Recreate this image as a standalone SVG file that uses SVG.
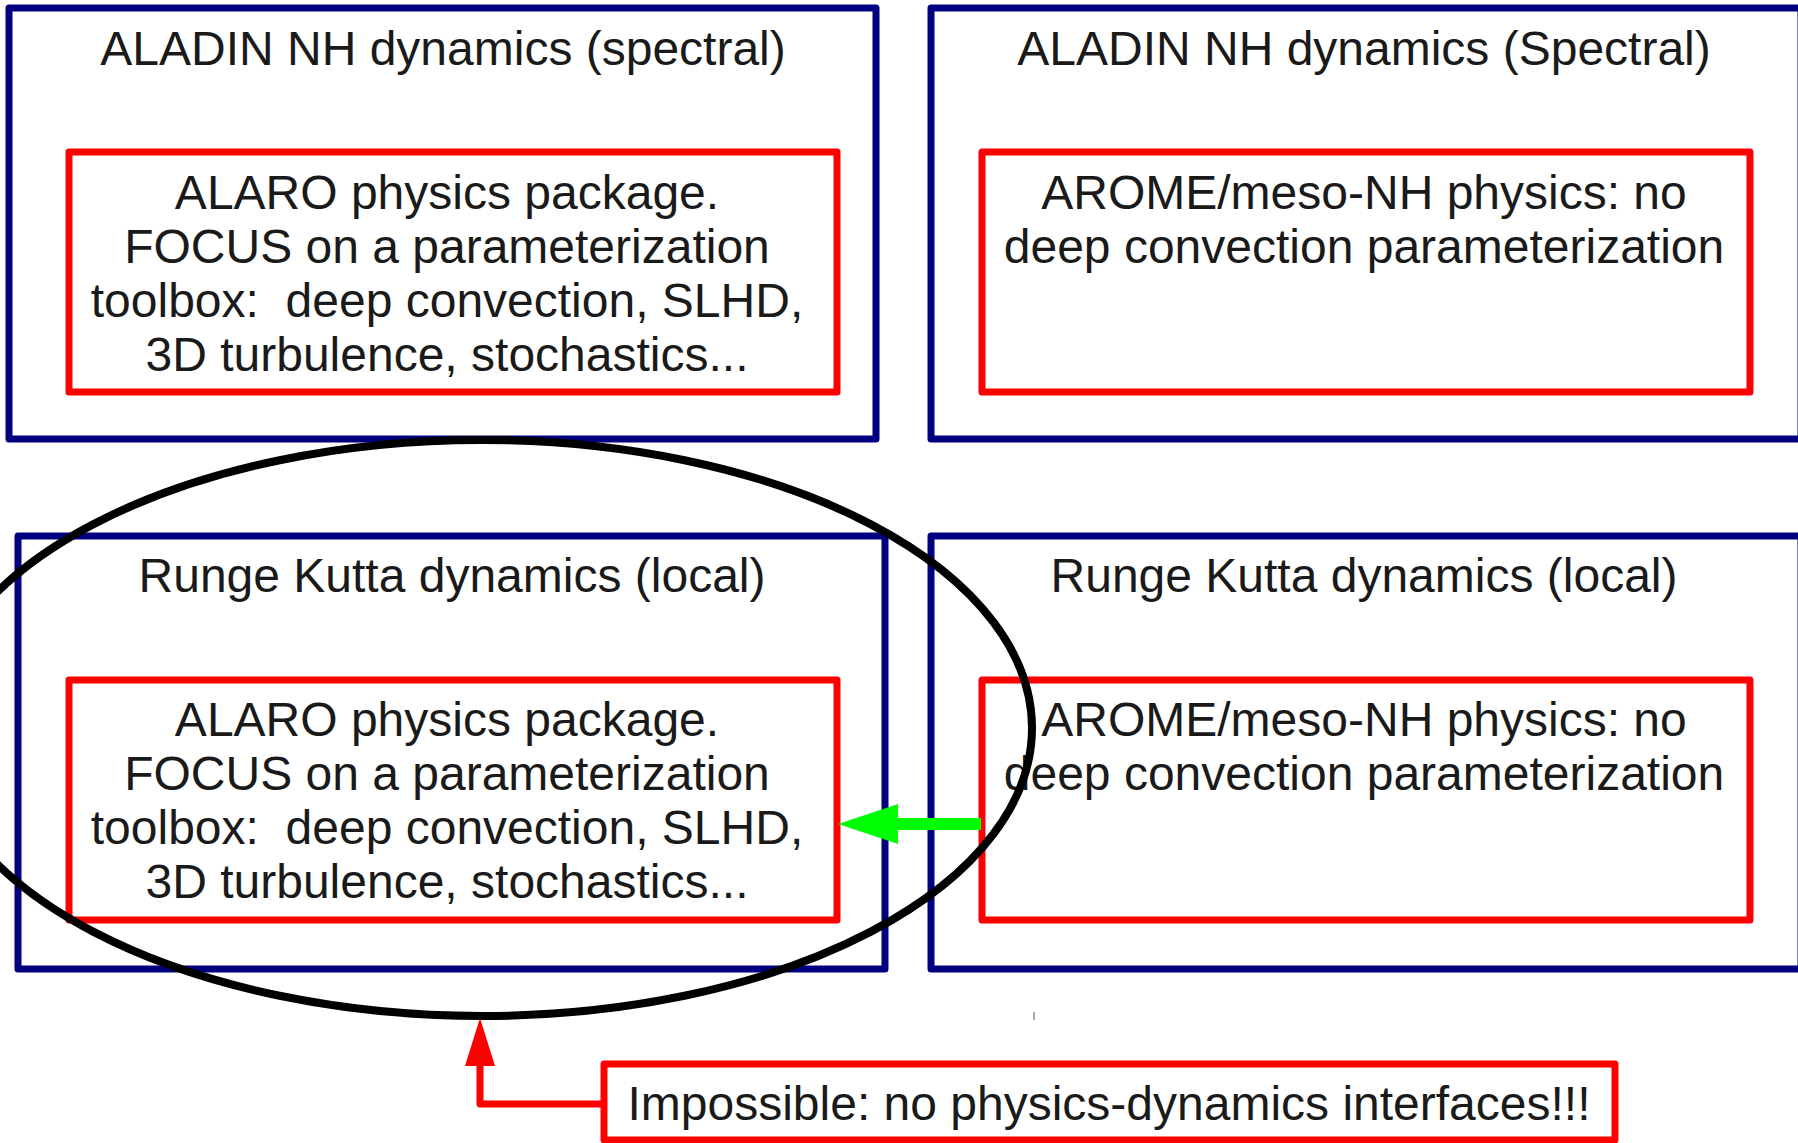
<svg xmlns="http://www.w3.org/2000/svg" width="1798" height="1143" viewBox="0 0 1798 1143">
<style>
.dyn{fill:#fff;stroke:#000080;stroke-width:7;stroke-linejoin:round}
.phy{fill:none;stroke:#ff0000;stroke-width:7;stroke-linejoin:round}
text{font-family:"Liberation Sans",Arial,sans-serif;font-size:48px;fill:#1a1a1a;text-anchor:middle}
</style>
<rect width="1798" height="1143" fill="#fff"/>
<g id="dyn-tl">
<rect class="dyn" x="9" y="8" width="867" height="431"/>
<text x="443" y="65">ALADIN NH dynamics (spectral)</text>
</g>
<g id="phy-tl">
<rect class="phy" x="69" y="152" width="768" height="240"/>
<text x="447" y="209">ALARO physics package.</text>
<text x="447" y="263">FOCUS on a parameterization</text>
<text x="447" y="317" xml:space="preserve">toolbox:  deep convection, SLHD,</text>
<text x="447" y="371">3D turbulence, stochastics...</text>
</g>
<g id="dyn-tr">
<rect class="dyn" x="931" y="8" width="870" height="431"/>
<text x="1364" y="65">ALADIN NH dynamics (Spectral)</text>
</g>
<g id="phy-tr">
<rect class="phy" x="982" y="152" width="768" height="240"/>
<text x="1364" y="209">AROME/meso-NH physics: no</text>
<text x="1364" y="263">deep convection parameterization</text>
</g>
<g id="dyn-bl">
<rect class="dyn" x="18" y="536" width="867" height="433"/>
<text x="452" y="592">Runge Kutta dynamics (local)</text>
</g>
<g id="phy-bl">
<rect class="phy" x="69" y="680" width="768" height="240"/>
<text x="447" y="736">ALARO physics package.</text>
<text x="447" y="790">FOCUS on a parameterization</text>
<text x="447" y="844" xml:space="preserve">toolbox:  deep convection, SLHD,</text>
<text x="447" y="898">3D turbulence, stochastics...</text>
</g>
<g id="dyn-br">
<rect class="dyn" x="931" y="536" width="870" height="433"/>
<text x="1364" y="592">Runge Kutta dynamics (local)</text>
</g>
<g id="phy-br">
<rect class="phy" x="982" y="680" width="768" height="240"/>
<text x="1364" y="736">AROME/meso-NH physics: no</text>
<text x="1364" y="790">deep convection parameterization</text>
</g>
<g id="highlight">
<ellipse cx="482" cy="728" rx="550" ry="288" fill="none" stroke="#000" stroke-width="8"/>
</g>
<g id="callout">
<rect class="phy" x="604" y="1064" width="1011" height="76"/>
<text x="1109" y="1120">Impossible: no physics-dynamics interfaces!!!</text>
</g>
<g id="connectors">
<line x1="981" y1="824" x2="895" y2="824" stroke="#00ff00" stroke-width="12"/>
<polygon points="838,824 898,804 898,844" fill="#00ff00"/>
<polyline points="604,1104 480,1104 480,1062" fill="none" stroke="#ff0000" stroke-width="7" stroke-linejoin="round"/>
<polygon points="480,1018 495,1066 465,1066" fill="#ff0000"/>
<line x1="1034" y1="1012" x2="1034" y2="1020" stroke="#555" stroke-width="1"/>
</g>
</svg>
